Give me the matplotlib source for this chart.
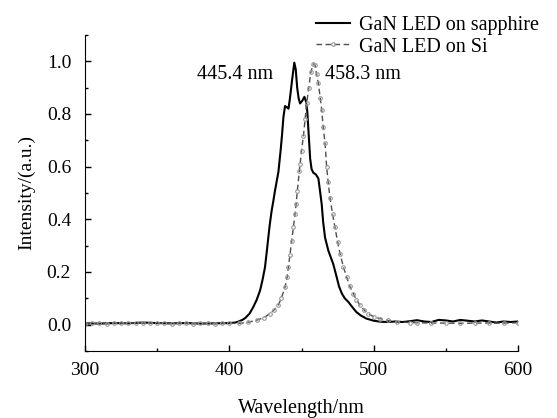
import numpy as np
import matplotlib
matplotlib.use('Agg')
import matplotlib.pyplot as plt
from matplotlib.ticker import MultipleLocator

plt.rcParams['font.family'] = ['Liberation Serif', 'DejaVu Serif']

# GaN LED on sapphire (wavelength nm, normalized intensity)
sapphire_wl = np.array([300, 310, 320, 330, 340, 350, 360, 370, 380, 390, 400, 404, 406, 409, 411,
                        414, 416.6, 419, 421.3, 423, 424.7, 426, 427, 428, 429.3, 430.5, 431.6, 433,
                        434, 435.5, 436.5, 437.5, 438.6, 440, 441, 442, 443.5, 445, 446, 447, 448,
                        449, 450.5, 452, 453, 454, 455, 456, 457, 458.2, 460, 461.7, 463, 464, 465,
                        466.3, 468.6, 470, 472, 474.4, 476, 478, 480, 482.5, 485, 488, 491, 495,
                        500, 505, 510, 515, 520, 525, 530, 535, 540, 545, 550, 555, 560, 565, 570,
                        575, 580, 585, 590, 595, 600])
sapphire_int = np.array([0.005, 0.004, 0.006, 0.005, 0.008, 0.006, 0.005, 0.006, 0.004, 0.005, 0.006,
                         0.008, 0.011, 0.018, 0.025, 0.042, 0.067, 0.095, 0.13, 0.17, 0.218, 0.28,
                         0.331, 0.38, 0.432, 0.47, 0.508, 0.55, 0.58, 0.66, 0.72, 0.79, 0.83, 0.825,
                         0.82, 0.86, 0.93, 0.995, 0.97, 0.9, 0.86, 0.84, 0.85, 0.865, 0.85, 0.81,
                         0.72, 0.63, 0.59, 0.577, 0.57, 0.555, 0.5, 0.457, 0.39, 0.331, 0.281, 0.26,
                         0.23, 0.18, 0.145, 0.118, 0.1, 0.086, 0.068, 0.048, 0.035, 0.023, 0.015,
                         0.011, 0.01, 0.012, 0.01, 0.013, 0.017, 0.012, 0.01, 0.018, 0.016, 0.012,
                         0.018, 0.015, 0.012, 0.016, 0.012, 0.008, 0.012, 0.01, 0.012])

# GaN LED on Si
si_wl = np.array([300, 305, 310, 315, 320, 325, 330, 335, 340, 345, 350, 355, 360, 365, 370, 375,
                  380, 385, 390, 395, 400, 407, 413, 419, 424, 428.2, 431, 433.9, 436, 438.6, 440,
                  440.9, 442, 443.2, 444.4, 445.5, 446.3, 447.1, 448.5, 449, 450, 451.3, 452.5,
                  453.6, 455, 456.5, 458.2, 459.5, 460.5, 461.7, 463, 464, 465, 466.3, 467.4,
                  468.5, 469.7, 471.5, 473.2, 475, 476.7, 479, 481.3, 483.5, 485.9, 488, 490.5,
                  493.5, 496.3, 500, 504.4, 510, 516, 525, 530, 540, 550, 560, 570, 580, 590, 600])
si_int = np.array([0.004, 0.005, 0.005, 0.004, 0.006, 0.005, 0.005, 0.006, 0.007, 0.005, 0.006,
                   0.005, 0.004, 0.005, 0.005, 0.004, 0.005, 0.005, 0.004, 0.005, 0.005, 0.005,
                   0.009, 0.017, 0.027, 0.042, 0.056, 0.074, 0.1, 0.143, 0.18, 0.218, 0.265,
                   0.319, 0.37, 0.42, 0.46, 0.508, 0.583, 0.61, 0.66, 0.715, 0.78, 0.84, 0.9,
                   0.96, 0.99, 0.985, 0.95, 0.916, 0.86, 0.816, 0.75, 0.69, 0.6, 0.54, 0.482,
                   0.42, 0.369, 0.315, 0.269, 0.22, 0.18, 0.145, 0.118, 0.095, 0.074, 0.055,
                   0.042, 0.03, 0.023, 0.016, 0.011, 0.008, 0.007, 0.006, 0.006, 0.005, 0.006,
                   0.006, 0.006, 0.007])

peak_labels = ['445.4 nm', '458.3 nm']
peak_label_x = [377.5, 466.5]
peak_label_y = 0.95

fig = plt.figure(figsize=(5.57, 4.18), dpi=100)
ax = fig.add_axes([0.1526, 0.1603, 0.7774, 0.756])

ax.plot(sapphire_wl, sapphire_int, color='black', lw=1.5, label='GaN LED on sapphire')
ax.plot(si_wl, si_int, color='0.3', lw=1.0, ls=(0, (4, 2.5)), marker='o', ms=2.6,
        mfc='none', mec='0.6', mew=0.8, label='GaN LED on Si')

for txt, xx in zip(peak_labels, peak_label_x):
    ax.text(xx, peak_label_y, txt, fontsize=14.5, ha='left', va='center')

ax.set_xlim(300, 600)
ax.set_ylim(-0.1, 1.1)
ax.xaxis.set_major_locator(MultipleLocator(100))
ax.xaxis.set_minor_locator(MultipleLocator(50))
ax.yaxis.set_minor_locator(MultipleLocator(0.1))
ax.set_yticks([0.0, 0.2, 0.4, 0.6, 0.8, 1.0])
ax.set_yticklabels(['0.0', '0.2', '0.4', '0.6', '0.8', '1.0'])

ax.spines['top'].set_visible(False)
ax.spines['right'].set_visible(False)
ax.tick_params(which='major', direction='in', length=4, width=1, labelsize=14)
ax.tick_params(which='minor', direction='in', length=2, width=1)
ax.tick_params(axis='x', pad=8)
ax.tick_params(axis='y', pad=10)

ax.set_xlabel('Wavelength/nm', fontsize=14.5, labelpad=14)
ax.set_ylabel('Intensity/(a.u.)', fontsize=14, labelpad=8)

fig.legend(loc='upper right', bbox_to_anchor=(0.985, 0.985), frameon=False, fontsize=14.5,
           handlelength=1.65, handletextpad=0.45, labelspacing=0.1, borderpad=0)

fig.savefig('out.png', dpi=100)
